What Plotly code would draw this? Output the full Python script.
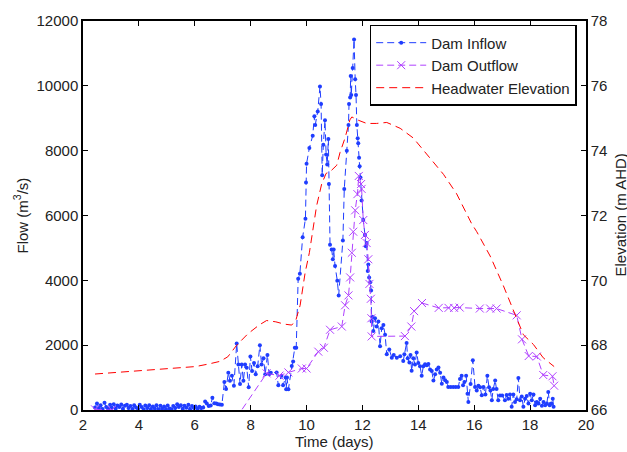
import plotly.graph_objects as go

# ---------------- data ----------------
inflow_days = [2.43,2.50,2.57,2.63,2.70,2.77,2.83,2.90,2.97,3.03,3.10,3.17,3.23,3.30,3.37,3.43,3.50,3.57,3.63,3.70,
               3.77,3.83,3.90,3.97,4.03,4.10,4.17,4.23,4.30,4.37,4.43,4.50,4.57,4.63,4.70,4.77,4.83,4.90,4.97,5.03,
               5.10,5.17,5.23,5.30,5.37,5.43,5.50,5.57,5.63,5.70,5.77,5.83,5.90,5.97,6.03,6.10,6.17,6.23,6.30,6.37,
               6.43,6.50,6.57,6.63,6.70,6.77,6.83,6.90,6.97,
               7.06,7.12,7.20,7.26,7.33,7.40,7.50,7.56,7.62,7.68,7.74,7.80,7.86,7.93,7.99,8.05,8.12,8.18,8.25,8.33,
               8.39,8.46,8.52,8.60,8.66,8.72,8.93,8.99,9.10,9.16,9.25,9.27,9.30,9.35,9.47,9.52,9.58,9.63,
               9.70,9.76,9.86,9.96,9.98,10.00,10.10,10.22,10.28,10.31,10.40,10.48,10.52,10.56,10.60,10.66,10.70,10.74,
               10.78,10.80,10.84,10.90,10.94,10.97,11.02,11.10,11.15,11.30,11.35,11.44,11.50,11.52,11.56,11.58,11.60,
               11.65,11.70,11.74,11.77,11.80,11.83,11.85,11.88,11.90,11.93,11.97,12.03,12.09,12.12,12.15,12.19,12.21,
               12.24,12.28,12.31,12.33,12.35,12.39,12.45,12.51,12.57,12.63,12.69,12.75,12.81,12.87,12.96,13.05,13.12,
               13.23,13.35,13.46,13.50,13.58,13.62,13.68,13.72,13.76,13.82,13.88,13.94,14.00,14.06,14.12,14.18,14.24,
               14.30,14.36,14.42,14.48,14.54,14.60,14.66,14.72,14.78,14.84,14.90,14.96,15.02,15.07,15.16,15.25,15.34,
               15.43,15.49,15.55,15.60,15.65,15.71,15.76,15.79,15.87,15.95,16.03,16.09,16.15,16.21,16.27,16.33,16.40,
               16.47,16.53,16.58,16.63,16.68,16.75,16.80,16.86,16.92,17.00,17.10,17.16,17.22,17.28,17.34,17.40,17.46,
               17.52,17.58,17.64,17.70,17.76,17.82,17.88,17.94,18.00,18.06,18.12,18.18,18.24,18.30,18.36,18.42,18.48,
               18.54,18.60,18.65,18.70,18.76,18.81,18.84]
inflow_vals = [80,200,60,150,30,220,90,40,160,70,180,50,140,90,170,40,130,160,60,120,
               30,150,80,40,160,90,20,140,60,150,30,110,50,150,20,130,40,110,30,140,
               50,20,120,60,180,90,150,40,130,70,160,30,120,60,110,40,100,60,80,260,
               200,120,140,380,210,200,180,170,160,
               860,650,1150,900,1060,750,2050,1400,800,1400,900,1400,1300,700,1650,1200,1450,1100,1350,2000,
               1400,1600,1100,1700,1100,1150,1160,760,1060,760,1000,640,1000,640,1360,1500,1920,1920,
               4050,4200,5330,5900,7020,7600,8080,8460,9060,8790,9210,9980,9440,7240,8180,8940,7880,7575,
               8360,6970,5100,4950,4650,4950,4445,3990,3535,5230,6820,8000,8790,9440,9640,10300,9720,
               10550,11430,10200,9720,8790,8380,8230,7780,7520,7170,6460,5860,5400,5050,5150,4290,4490,
               4090,3940,3690,2730,2880,2440,2830,2575,2730,1970,2525,2625,2325,1720,1870,1615,1700,
               1615,1660,1515,1720,2070,1600,1465,1700,1212,1600,1400,1770,1450,1350,1060,1350,1415,
               1380,1420,1250,1200,910,1100,1250,1310,1150,810,1000,920,860,710,710,710,710,
               710,960,1060,760,860,1060,500,250,800,1535,710,600,750,700,455,710,480,
               1060,700,600,300,650,910,650,300,450,450,300,460,350,480,100,480,250,
               330,990,300,420,100,350,430,200,500,300,480,150,250,200,350,130,250,
               150,200,555,150,200,350,100]

outflow_days = [2.43,3.03,7.40,8.57,9.03,9.35,9.83,10.00,10.42,10.62,10.84,11.26,11.38,11.50,11.56,11.62,11.67,
                11.74,11.82,11.87,11.95,11.97,12.03,12.09,12.15,12.21,12.25,12.30,12.32,12.33,13.52,13.75,13.85,
                14.13,14.73,15.08,15.28,15.48,16.20,16.57,16.80,17.52,17.71,17.95,18.24,18.47,18.80,18.86]
outflow_vals = [20,0,-350,1130,1060,1160,1280,1280,1800,1920,2475,2575,3230,3535,4090,4850,5500,
                6160,6660,7220,6970,6820,5860,5400,5150,4650,3890,3430,2830,2270,2280,2575,3050,
                3300,3150,3150,3150,3160,3130,3130,3130,2920,2180,1665,1650,1080,1040,750]

head_days = [2.43,6.03,6.50,6.90,7.18,7.50,7.90,8.30,8.57,8.90,9.20,9.47,9.62,9.77,9.95,10.10,10.36,10.54,
             10.70,10.84,11.08,11.20,11.38,11.55,11.62,11.85,12.15,12.50,12.87,13.35,13.82,14.30,14.90,15.37,
             15.90,16.09,16.57,17.04,17.52,17.76,18.12,18.47,18.86]
head_vals = [67.11,67.34,67.42,67.50,67.64,68.00,68.35,68.62,68.76,68.72,68.65,68.62,68.78,69.23,70.24,70.85,
             72.30,72.97,73.30,73.35,73.55,73.95,74.40,74.95,75.04,74.94,74.84,74.84,74.87,74.69,74.39,73.88,
             73.27,72.67,71.76,71.50,70.75,69.84,68.83,68.32,68.02,67.61,67.34]

x_ticks = [2, 4, 6, 8, 10, 12, 14, 16, 18, 20]
flow_ticks = [0, 2000, 4000, 6000, 8000, 10000, 12000]
elev_ticks = [66, 68, 70, 72, 74, 76, 78]

BLUE = "#1f3dff"
PURPLE = "#b040ff"
RED = "#ff0000"
FONT = "Liberation Sans, Arial, sans-serif"

fig = go.Figure()
fig.add_trace(go.Scatter(
    x=inflow_days, y=inflow_vals, name="Dam Inflow", mode="lines+markers",
    line=dict(color=BLUE, width=1, dash="7px,4px"),
    marker=dict(symbol="circle", size=4, color=BLUE),
))
fig.add_trace(go.Scatter(
    x=outflow_days, y=outflow_vals, name="Dam Outflow", mode="lines+markers",
    line=dict(color=PURPLE, width=1, dash="7px,4px"),
    marker=dict(symbol="x-thin", size=8, color=PURPLE, line=dict(color=PURPLE, width=1)),
))
fig.add_trace(go.Scatter(
    x=head_days, y=head_vals, name="Headwater Elevation", mode="lines",
    line=dict(color=RED, width=1, dash="8px,5px"), yaxis="y2",
))

axis_common = dict(
    showgrid=False, zeroline=False, showline=True, linecolor="black", linewidth=1.5,
    ticks="inside", ticklen=5, tickcolor="black", tickwidth=1,
    tickfont=dict(family=FONT, size=15, color="#222"),
)

pw = 627 - 83 - 41
ph = 452 - 14 - 42

fig.update_layout(
    width=627, height=452,
    margin=dict(l=83, r=41, t=14, b=42),
    paper_bgcolor="white", plot_bgcolor="white",
    font=dict(family=FONT, size=15, color="#222"),
    xaxis=dict(range=[2, 20], tickvals=x_ticks, ticktext=[str(v) for v in x_ticks],
               mirror="ticks", **axis_common),
    yaxis=dict(range=[0, 12000], tickvals=flow_ticks, ticktext=[str(v) for v in flow_ticks],
               mirror=False, **axis_common),
    yaxis2=dict(range=[66, 78], tickvals=elev_ticks, ticktext=[str(v) for v in elev_ticks],
                overlaying="y", side="right", **axis_common),
    showlegend=True,
    legend=dict(
        x=(576.7 - 83) / pw, y=(410 - 18) / ph, xanchor="right", yanchor="top",
        bgcolor="white", bordercolor="black", borderwidth=1.5,
        font=dict(family=FONT, size=15, color="#222"),
        itemwidth=50, tracegroupgap=0,
    ),
    annotations=[
        dict(text="Time (days)", x=0.5, xref="paper", xanchor="center",
             y=(410 - 442) / ph, yref="paper", yanchor="middle", showarrow=False,
             font=dict(family=FONT, size=15, color="#222")),
        dict(text="Flow (m<sup>3</sup>/s)", x=(21 - 83) / pw, xanchor="center", xref="paper",
             y=0.5, yref="paper", showarrow=False, textangle=-90,
             font=dict(family=FONT, size=15, color="#222")),
        dict(text="Elevation (m AHD)", x=(620 - 83) / pw, xanchor="center", xref="paper",
             y=0.5, yref="paper", showarrow=False, textangle=-90,
             font=dict(family=FONT, size=15, color="#222")),
    ],
)

fig.write_html("out.html")
